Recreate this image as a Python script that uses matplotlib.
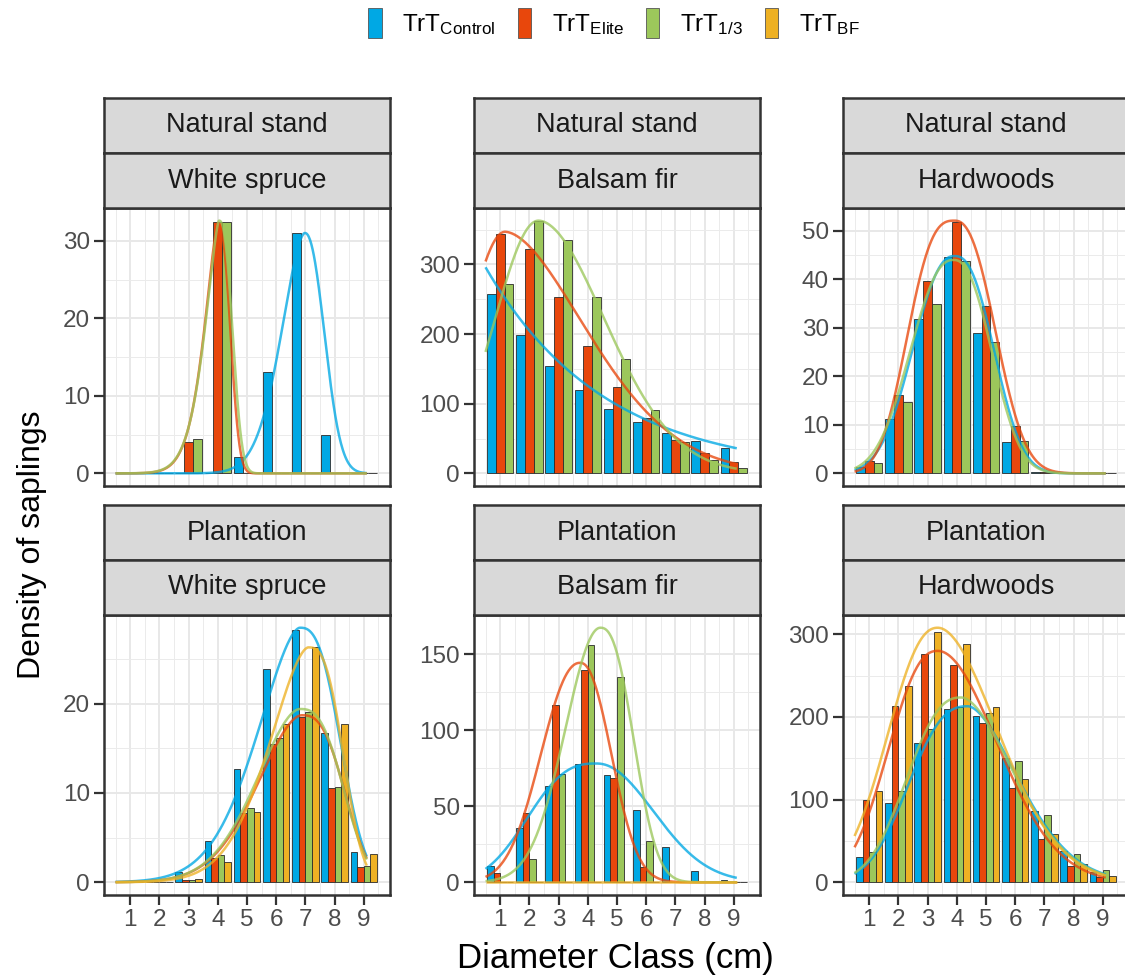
import numpy as np
import matplotlib
matplotlib.use("Agg")
import matplotlib.pyplot as plt
from matplotlib.patches import Patch
from matplotlib.ticker import MultipleLocator, FixedLocator

plt.rcParams['font.family'] = ['Liberation Sans', 'DejaVu Sans']
plt.rcParams['mathtext.fontset'] = 'custom'
plt.rcParams['mathtext.rm'] = 'Liberation Sans'
plt.rcParams['mathtext.it'] = 'Liberation Sans:italic'
plt.rcParams['mathtext.bf'] = 'Liberation Sans:bold'

# ---------------- data ----------------
CLASSES = [1, 2, 3, 4, 5, 6, 7, 8, 9]
STANDS = ["Natural stand", "Plantation"]
SPECIES = ["White spruce", "Balsam fir", "Hardwoods"]
LEGEND_LABELS = [r"$\mathrm{TrT}_{\mathrm{Control}}$", r"$\mathrm{TrT}_{\mathrm{Elite}}$",
                 r"$\mathrm{TrT}_{1/3}$", r"$\mathrm{TrT}_{\mathrm{BF}}$"]
COLORS = ["#00a8e4", "#e8470c", "#9cc75b", "#eeb124"]

# Natural stand - White spruce
NS_WS_CONTROL = [0, 0, 0, 0, 2.17, 13.05, 31.0, 4.97, 0]
NS_WS_ELITE = [0, 0, 4.08, 32.4, 0, 0, 0, 0, 0]
NS_WS_ONE3 = [0, 0, 4.4, 32.4, 0, 0, 0, 0, 0]
# Natural stand - Balsam fir
NS_BF_CONTROL = [257, 199, 154.5, 120, 93, 73.6, 57.5, 46, 36.5]
NS_BF_ELITE = [344, 322, 254, 183, 123.5, 79, 48, 29, 16.6]
NS_BF_ONE3 = [272, 362, 335, 254, 164, 91.7, 45.6, 19, 7.6]
# Natural stand - Hardwoods
NS_HW_CONTROL = [1.36, 11.25, 31.8, 44.6, 28.9, 6.5, 0.2, 0, 0]
NS_HW_ELITE = [2.45, 16.2, 39.7, 51.9, 34.5, 9.75, 0.3, 0, 0]
NS_HW_ONE3 = [2.18, 14.8, 35.0, 43.8, 27.0, 6.75, 0.2, 0, 0]
# Plantation - White spruce
PL_WS_CONTROL = [0, 0, 1.16, 4.67, 12.63, 23.9, 28.25, 16.67, 3.4]
PL_WS_ELITE = [0, 0, 0.25, 2.73, 7.78, 15.44, 18.54, 10.5, 1.72]
PL_WS_ONE3 = [0, 0, 0.3, 3.03, 8.34, 16.2, 19.1, 10.7, 1.8]
PL_WS_BF = [0, 0, 0.38, 2.28, 7.89, 17.7, 26.3, 17.76, 3.14]
# Plantation - Balsam fir
PL_BF_CONTROL = [10.5, 35.8, 63.2, 78.2, 70.7, 47.9, 22.9, 7.5, 1.3]
PL_BF_ELITE = [6.2, 45.7, 116.4, 139.7, 68.8, 9.9, 0, 0, 0]
PL_BF_ONE3 = [0, 15.4, 71.6, 155.9, 135.3, 27.5, 0, 0, 0]
PL_BF_BF = [0, 0, 0, 0, 0, 0, 0, 0, 0]
# Plantation - Hardwoods
PL_HW_CONTROL = [30.6, 95.8, 168, 209.5, 201, 150, 86.5, 37.9, 12.9]
PL_HW_ELITE = [99.8, 213.5, 276.7, 262.6, 193, 113.9, 52.3, 19.3, 6.0]
PL_HW_ONE3 = [36.7, 111, 185, 212.3, 204.3, 147.2, 82, 34.3, 15.3]
PL_HW_BF = [111, 237.6, 302.8, 288, 212.3, 125, 58.7, 22.5, 7.2]

# fitted curves, described by read-off features:
# (peak height, peak position, left half-width, right half-width, left tail power, right tail power)
FIT_NS_WS = [(31.0, 6.98, 0.93, 0.75, 1.75, 2.2), (32.3, 4.0, 0.54, 0.47, 1.45, 2.5),
             (32.6, 4.04, 0.56, 0.5, 1.45, 2.5)]
FIT_NS_BF = [(296, 0.5, 1.0, 2.83, 2.0, 1.0), (347, 1.17, 1.54, 3.28, 2.0, 1.75),
             (363, 2.31, 1.76, 2.7, 2.0, 1.9)]
FIT_NS_HW = [(44.8, 3.92, 1.57, 1.47, 2.3, 2.45), (52.1, 3.92, 1.69, 1.52, 2.8, 2.4),
             (44.0, 3.88, 1.62, 1.44, 2.3, 2.4)]
FIT_PL_WS = [(28.5, 6.81, 1.69, 1.47, 1.7, 2.7), (18.7, 6.87, 1.75, 1.54, 1.8, 2.8),
             (19.4, 6.81, 1.72, 1.56, 1.8, 2.8), (26.3, 7.1, 1.56, 1.25, 1.7, 2.85)]
FIT_PL_BF = [(78.2, 4.31, 2.49, 2.24, 2.7, 2.05), (144.5, 3.74, 1.51, 1.2, 2.2, 2.2),
             (167.6, 4.43, 1.4, 1.23, 2.0, 2.45), (0, 4.0, 1.0, 1.0, 2.0, 2.0)]
FIT_PL_HW = [(213, 4.38, 2.17, 2.0, 2.55, 1.75), (280, 3.35, 1.86, 2.38, 2.35, 1.95),
             (223.6, 4.15, 2.01, 2.1, 2.45, 1.8), (308, 3.35, 1.91, 2.4, 2.25, 1.9)]
CURVE_RANGE = (0.5, 9.1)

Y_STEPS = [[10, 100, 10], [10, 50, 100]]

PANELS = [
    [([NS_WS_CONTROL, NS_WS_ELITE, NS_WS_ONE3], FIT_NS_WS),
     ([NS_BF_CONTROL, NS_BF_ELITE, NS_BF_ONE3], FIT_NS_BF),
     ([NS_HW_CONTROL, NS_HW_ELITE, NS_HW_ONE3], FIT_NS_HW)],
    [([PL_WS_CONTROL, PL_WS_ELITE, PL_WS_ONE3, PL_WS_BF], FIT_PL_WS),
     ([PL_BF_CONTROL, PL_BF_ELITE, PL_BF_ONE3, PL_BF_BF], FIT_PL_BF),
     ([PL_HW_CONTROL, PL_HW_ELITE, PL_HW_ONE3, PL_HW_BF], FIT_PL_HW)],
]


def fitted_curve(xs, H, m, hl, hr, pl, pr):
    """Split exponential-power peak: height H at m, half height at m-hl and m+hr."""
    d = xs - m
    h = np.where(d < 0, hl, hr)
    p = np.where(d < 0, pl, pr)
    return H * np.exp(-np.log(2) * (np.abs(d) / h) ** p)


# ---------------- layout ----------------
W, H = 1125, 980
fig = plt.figure(figsize=(W / 100, H / 100), dpi=100)
fig.patch.set_facecolor("white")

COL_LEFT = [104, 474, 843]
PANEL_W = 286
ROW_TOP = [208, 615]
ROW_BOT = [486, 895]
STRIP_H = 55
BORDER = "#333333"


def rect(l, t, w, h):
    return [l / W, 1 - (t + h) / H, w / W, h / H]


xs = np.linspace(CURVE_RANGE[0], CURVE_RANGE[1], 400)

for r in range(2):
    for c in range(3):
        bars, fits = PANELS[r][c]
        top, bot, left = ROW_TOP[r], ROW_BOT[r], COL_LEFT[c]
        ax = fig.add_axes(rect(left, top, PANEL_W, bot - top))
        n = len(bars)
        w = 0.9 / n
        x = np.array(CLASSES, dtype=float)
        ymax = 0
        for i, vals in enumerate(bars):
            ax.bar(x + (i - (n - 1) / 2) * w, vals, width=w, color=COLORS[i],
                   edgecolor="#2b2b2b", linewidth=0.6, zorder=2)
            ymax = max(ymax, max(vals))
        for i, p in enumerate(fits):
            ys = fitted_curve(xs, *p)
            ymax = max(ymax, ys.max())
            ax.plot(xs, ys, color=COLORS[i], lw=1.8, alpha=0.78, zorder=3,
                    solid_capstyle="butt")
        ax.set_xlim(0.105, 9.895)
        ax.set_ylim(-0.05 * ymax, 1.05 * ymax)
        step = Y_STEPS[r][c]
        ax.yaxis.set_major_locator(MultipleLocator(step))
        ax.yaxis.set_minor_locator(MultipleLocator(step / 2))
        ax.xaxis.set_major_locator(FixedLocator(CLASSES))
        ax.xaxis.set_minor_locator(MultipleLocator(0.5))
        ax.set_axisbelow(True)
        ax.grid(which="major", color="#e8e8e8", lw=1.4)
        ax.grid(which="minor", color="#ebebeb", lw=0.7)
        for s in ax.spines.values():
            s.set_color(BORDER)
            s.set_linewidth(1.8)
        ax.tick_params(which="major", length=7, width=1.6, color=BORDER,
                       labelcolor="#4d4d4d", labelsize=17.5, pad=3)
        ax.tick_params(which="minor", length=0)
        if r == 0:
            ax.tick_params(axis="x", which="major", length=0, labelbottom=False)
        # strips
        for j, label in enumerate([STANDS[r], SPECIES[c]]):
            sax = fig.add_axes(rect(left, top - STRIP_H * (2 - j), PANEL_W, STRIP_H))
            sax.set_facecolor("#d9d9d9")
            sax.set_xticks([])
            sax.set_yticks([])
            for s in sax.spines.values():
                s.set_color(BORDER)
                s.set_linewidth(1.8)
            sax.text(0.5, 0.5, label, transform=sax.transAxes, ha="center",
                     va="center", fontsize=19.5, color="#1a1a1a")

fig.text(32 / W, 1 - 545 / H, "Density of saplings", rotation=90, ha="center",
         va="center", fontsize=23, color="black")
fig.text(615 / W, 1 - 958 / H, "Diameter Class (cm)", ha="center", va="center",
         fontsize=25, color="black")

handles = [Patch(facecolor=c, edgecolor="#555555", linewidth=0.6) for c in COLORS]
fig.legend(handles, LEGEND_LABELS, loc="upper center", bbox_to_anchor=(614 / W, 1 - 3 / H),
           ncol=4, frameon=False, fontsize=17.5, handlelength=0.55, handleheight=1.5,
           handletextpad=0.85, columnspacing=0.9, borderaxespad=0, borderpad=0.2)

fig.savefig("out.png", dpi=100, facecolor="white")
